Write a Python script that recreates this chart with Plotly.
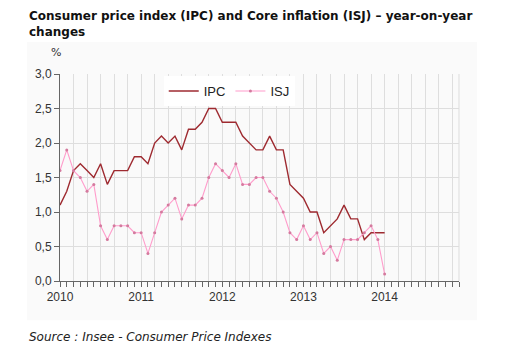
import plotly.graph_objects as go

# ---- data ----
years = ["2010", "2011", "2012", "2013", "2014"]
ipc = [1.1, 1.3, 1.6, 1.7, 1.6, 1.5, 1.7, 1.4, 1.6, 1.6, 1.6, 1.8,
       1.8, 1.7, 2.0, 2.1, 2.0, 2.1, 1.9, 2.2, 2.2, 2.3, 2.5, 2.5,
       2.3, 2.3, 2.3, 2.1, 2.0, 1.9, 1.9, 2.1, 1.9, 1.9, 1.4, 1.3,
       1.2, 1.0, 1.0, 0.7, 0.8, 0.9, 1.1, 0.9, 0.9, 0.6, 0.7, 0.7,
       0.7]
isj = [1.6, 1.9, 1.6, 1.5, 1.3, 1.4, 0.8, 0.6, 0.8, 0.8, 0.8, 0.7,
       0.7, 0.4, 0.7, 1.0, 1.1, 1.2, 0.9, 1.1, 1.1, 1.2, 1.5, 1.7,
       1.6, 1.5, 1.7, 1.4, 1.4, 1.5, 1.5, 1.3, 1.2, 1.0, 0.7, 0.6,
       0.8, 0.6, 0.7, 0.4, 0.5, 0.3, 0.6, 0.6, 0.6, 0.7, 0.8, 0.6,
       0.1]
y_ticks = [0.0, 0.5, 1.0, 1.5, 2.0, 2.5, 3.0]

months_ipc = list(range(len(ipc)))
months_isj = list(range(len(isj)))
n_months = len(years) * 12 - 1

grid_vals = list(range(0, n_months + 1, 2))
grid_text = [years[m // 12] if m % 12 == 0 else "" for m in grid_vals]

fig = go.Figure()
fig.add_trace(go.Scatter(x=months_ipc, y=ipc, name="IPC", mode="lines",
                         line=dict(color="#9e2a30", width=1.4)))
fig.add_trace(go.Scatter(x=months_isj, y=isj, name="ISJ", mode="lines+markers",
                         line=dict(color="#ff9ccb", width=1.1),
                         marker=dict(color="#d47a9e", size=3, symbol="circle")))

fig.update_layout(
    width=510, height=346,
    margin=dict(l=60, r=51, t=74, b=65),
    paper_bgcolor="white",
    plot_bgcolor="rgba(0,0,0,0)",
    font=dict(family="Liberation Sans, Arial, sans-serif", size=12, color="#333333"),
    separators=",.",
    showlegend=True,
    legend=dict(orientation="h", x=0.26, y=0.99, xanchor="left", yanchor="top",
                bgcolor="white", font=dict(size=13, color="#222222"),
                itemwidth=30, tracegroupgap=0, borderwidth=0),
    shapes=[
        dict(type="rect", xref="paper", yref="paper", x0=-0.083, x1=1.045,
             y0=-0.19, y1=1.155, fillcolor="#fafafa", line=dict(width=0), layer="below"),
        dict(type="line", xref="paper", yref="paper", x0=1, x1=1, y0=0, y1=1,
             line=dict(color="#dddddd", width=1), layer="below"),
    ],
    annotations=[
        dict(text="<b>Consumer price index (IPC) and Core inflation (ISJ) – year-on-year<br>changes</b>",
             xref="paper", yref="paper", x=-0.083, y=1.0, xanchor="left", yanchor="top",
             yshift=67, align="left", showarrow=False,
             font=dict(family="DejaVu Sans, Verdana, sans-serif", size=12, color="#111111")),
        dict(text="%", xref="paper", yref="paper", x=-0.01, y=1.0, xanchor="center",
             yanchor="bottom", yshift=13, showarrow=False,
             font=dict(family="DejaVu Sans, Verdana, sans-serif", size=11, color="#333333")),
        dict(text="<i>Source : Insee - Consumer Price Indexes</i>",
             xref="paper", yref="paper", x=-0.083, y=0, xanchor="left", yanchor="top",
             yshift=-47, showarrow=False, align="left",
             font=dict(family="DejaVu Sans, Verdana, sans-serif", size=12, color="#222222")),
    ],
)

fig.update_xaxes(range=[0, n_months], tickmode="array", tickvals=grid_vals, ticktext=grid_text,
                 showgrid=True, gridcolor="#dedede", gridwidth=1,
                 showline=True, linecolor="#666666", linewidth=1,
                 ticks="outside", ticklen=5, tickcolor="#666666",
                 minor=dict(dtick=1, tick0=0, ticks="outside", ticklen=5, tickcolor="#666666",
                            showgrid=False),
                 zeroline=False, fixedrange=True)
fig.update_yaxes(range=[0, 3], tickmode="array", tickvals=y_ticks,
                 ticktext=[f"{v:.1f}".replace(".", ",") for v in y_ticks],
                 showgrid=True, gridcolor="#dedede", gridwidth=1,
                 showline=True, linecolor="#666666", linewidth=1,
                 ticks="outside", ticklen=5, tickcolor="#666666",
                 zeroline=False, fixedrange=True)

fig.write_html("out.html")
